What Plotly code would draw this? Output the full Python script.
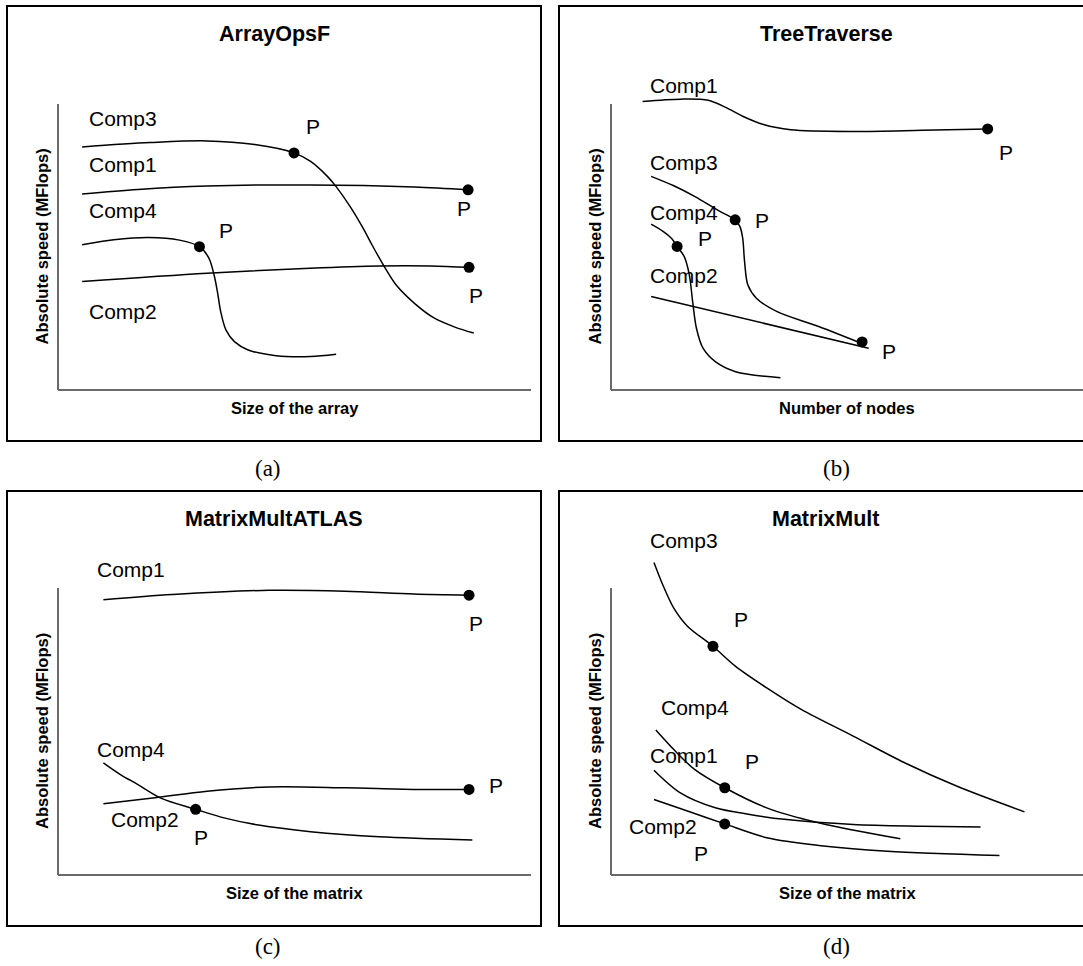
import plotly.graph_objects as go

W, H = 1083, 966

# ---------------- (a) ArrayOpsF ----------------
A_TITLE, A_XLABEL = "ArrayOpsF", "Size of the array"
A_COMP3_X = [5.1, 19.5, 31.5, 41.6, 49.9, 53.4, 57.0, 58.8, 61.7, 64.5, 66.4, 68.9, 71.5, 75.3, 79.5, 83.9, 87.9]
A_COMP3_Y = [85.0, 86.5, 87.1, 85.8, 82.9, 79.9, 74.6, 71.1, 64.3, 56.6, 50.7, 43.4, 36.7, 30.4, 25.2, 22.0, 19.9]
A_COMP1_X = [5.1, 16.9, 31.5, 53.3, 75.3, 86.7]
A_COMP1_Y = [68.5, 70.1, 71.3, 71.7, 71.0, 70.0]
A_COMP4_X = [5.1, 11.8, 19.1, 25.7, 29.9, 31.9, 33.0, 33.7, 34.4, 35.5, 37.3, 40.2, 46.1, 53.4, 58.8]
A_COMP4_Y = [50.8, 52.5, 53.3, 52.4, 50.1, 46.1, 40.2, 34.4, 27.4, 21.0, 16.9, 14.0, 12.0, 11.7, 12.5]
A_COMP2_X = [5.1, 31.5, 53.3, 67.9, 78.8, 86.9]
A_COMP2_Y = [37.9, 40.8, 42.6, 43.4, 43.4, 42.9]
A_DOT_X = [49.9, 86.7, 29.9, 86.9]
A_DOT_Y = [82.9, 70.0, 50.1, 42.9]
A_P_X = [53.9, 85.8, 35.5, 88.4]
A_P_Y = [92.3, 63.3, 55.9, 33.2]
A_NAMES = ["Comp3", "Comp1", "Comp4", "Comp2"]
A_NAME_X = [6.1, 6.1, 6.1, 6.1]
A_NAME_Y = [95.1, 79.0, 62.9, 27.3]

# ---------------- (b) TreeTraverse ----------------
B_TITLE, B_XLABEL = "TreeTraverse", "Number of nodes"
B_COMP1_X = [6.7, 14.7, 20.6, 24.3, 27.9, 32.3, 38.1, 51.3, 65.9, 79.8]
B_COMP1_Y = [100.9, 101.7, 101.3, 98.8, 95.7, 92.8, 91.0, 90.4, 90.8, 91.3]
B_COMP3_X = [8.5, 13.3, 17.7, 22.8, 26.3, 27.3, 27.9, 28.3, 29.0, 30.8, 35.2, 44.0, 54.0]
B_COMP3_Y = [74.7, 71.4, 67.7, 62.7, 59.5, 57.2, 53.1, 44.9, 36.7, 32.1, 27.4, 22.2, 15.7]
B_COMP4_X = [8.5, 11.1, 12.9, 14.0, 15.5, 16.6, 17.3, 18.1, 19.5, 22.1, 26.4, 35.9]
B_COMP4_Y = [58.0, 55.4, 52.9, 50.2, 46.7, 40.2, 30.9, 21.6, 14.6, 9.9, 6.4, 4.3]
B_COMP2_X = [8.5, 54.6]
B_COMP2_Y = [32.7, 14.6]
B_DOT_X = [79.8, 26.3, 14.0, 53.2]
B_DOT_Y = [91.3, 59.5, 50.2, 16.8]
B_P_X = [83.6, 31.9, 19.9, 58.9]
B_P_Y = [82.9, 59.4, 52.8, 13.3]
B_NAMES = ["Comp1", "Comp3", "Comp4", "Comp2"]
B_NAME_X = [7.8, 7.8, 7.8, 7.8]
B_NAME_Y = [106.6, 79.4, 62.2, 40.2]

# ---------------- (c) MatrixMultATLAS ----------------
C_TITLE, C_XLABEL = "MatrixMultATLAS", "Size of the matrix"
C_COMP1_X = [9.6, 24.2, 44.6, 60.7, 75.2, 86.9]
C_COMP1_Y = [95.9, 97.7, 99.2, 98.9, 97.9, 97.5]
C_COMP4_X = [9.6, 13.2, 16.9, 22.0, 29.1, 35.1, 42.4, 53.4, 67.9, 87.6]
C_COMP4_Y = [39.1, 35.0, 31.5, 26.6, 22.9, 19.9, 17.4, 15.1, 13.3, 12.2]
C_COMP2_X = [9.6, 20.5, 31.5, 44.6, 60.7, 75.2, 86.9]
C_COMP2_Y = [24.8, 26.9, 29.2, 30.7, 30.4, 29.8, 29.8]
C_DOT_X = [86.9, 29.1, 86.9]
C_DOT_Y = [97.5, 22.9, 29.8]
C_P_X = [88.4, 30.2, 92.7]
C_P_Y = [87.6, 13.0, 31.2]
C_NAMES = ["Comp1", "Comp4", "Comp2"]
C_NAME_X = [7.8, 7.8, 10.7]
C_NAME_Y = [106.6, 43.6, 19.4]

# ---------------- (d) MatrixMult ----------------
D_TITLE, D_XLABEL = "MatrixMult", "Size of the matrix"
D_COMP3_X = [9.1, 11.1, 13.3, 16.2, 21.6, 26.4, 33.0, 40.3, 51.3, 62.2, 73.2, 87.6]
D_COMP3_Y = [108.9, 100.6, 93.0, 86.7, 79.7, 72.7, 65.2, 57.7, 48.4, 39.1, 31.0, 22.0]
D_COMP4_X = [9.5, 13.3, 17.7, 24.1, 33.0, 44.0, 61.3]
D_COMP4_Y = [50.5, 43.7, 36.8, 30.4, 23.4, 18.2, 12.6]
D_COMP1_X = [9.1, 14.7, 22.1, 29.4, 36.7, 51.3, 65.9, 78.3]
D_COMP1_Y = [36.5, 28.6, 23.4, 21.1, 19.4, 17.6, 17.0, 16.7]
D_COMP2_X = [9.1, 16.2, 24.1, 33.0, 44.0, 58.6, 82.3]
D_COMP2_Y = [26.3, 22.3, 17.8, 13.0, 10.3, 8.3, 6.8]
D_DOT_X = [21.6, 24.1, 24.1]
D_DOT_Y = [79.7, 30.4, 17.8]
D_P_X = [27.5, 29.9, 19.0]
D_P_Y = [89.2, 39.7, 7.5]
D_NAMES = ["Comp3", "Comp4", "Comp1", "Comp2"]
D_NAME_X = [7.8, 10.2, 7.8, 3.3]
D_NAME_Y = [116.5, 58.2, 41.5, 16.8]

Y_LABEL = "Absolute speed (MFlops)"
TAGS = ["(a)", "(b)", "(c)", "(d)"]

SANS = "Liberation Sans, Arial, sans-serif"
SERIF = "Liberation Serif, Times New Roman, serif"
AXIS_GREY = "#6a6a6a"

panels = [
    dict(title=A_TITLE, xlabel=A_XLABEL,
         curves=[(A_COMP3_X, A_COMP3_Y), (A_COMP1_X, A_COMP1_Y), (A_COMP4_X, A_COMP4_Y), (A_COMP2_X, A_COMP2_Y)],
         dots=(A_DOT_X, A_DOT_Y), ps=(A_P_X, A_P_Y), names=(A_NAMES, A_NAME_X, A_NAME_Y),
         box=(7, 6, 541, 441), origin=(58, 390), xend=531, ytop=104, tag=(268, 469)),
    dict(title=B_TITLE, xlabel=B_XLABEL,
         curves=[(B_COMP1_X, B_COMP1_Y), (B_COMP3_X, B_COMP3_Y), (B_COMP4_X, B_COMP4_Y), (B_COMP2_X, B_COMP2_Y)],
         dots=(B_DOT_X, B_DOT_Y), ps=(B_P_X, B_P_Y), names=(B_NAMES, B_NAME_X, B_NAME_Y),
         box=(559, 6, 1093, 441), origin=(611, 390), xend=1083, ytop=104, tag=(836, 469)),
    dict(title=C_TITLE, xlabel=C_XLABEL,
         curves=[(C_COMP1_X, C_COMP1_Y), (C_COMP4_X, C_COMP4_Y), (C_COMP2_X, C_COMP2_Y)],
         dots=(C_DOT_X, C_DOT_Y), ps=(C_P_X, C_P_Y), names=(C_NAMES, C_NAME_X, C_NAME_Y),
         box=(7, 491, 541, 926), origin=(58, 875), xend=531, ytop=588, tag=(268, 946)),
    dict(title=D_TITLE, xlabel=D_XLABEL,
         curves=[(D_COMP3_X, D_COMP3_Y), (D_COMP4_X, D_COMP4_Y), (D_COMP1_X, D_COMP1_Y), (D_COMP2_X, D_COMP2_Y)],
         dots=(D_DOT_X, D_DOT_Y), ps=(D_P_X, D_P_Y), names=(D_NAMES, D_NAME_X, D_NAME_Y),
         box=(559, 491, 1093, 926), origin=(611, 875), xend=1083, ytop=588, tag=(836, 946)),
]


def px(x):
    return x / W


def py(y):
    return 1 - y / H


fig = go.Figure()
shapes, annotations = [], []
layout_axes = {}
PAD = 2.0  # data units kept below / left of the axis lines so they are not clipped

for i, p in enumerate(panels, start=1):
    xa, ya = f"x{i}", f"y{i}"
    ox, oy = p["origin"]
    ux = (p["xend"] - ox) / 100.0      # pixels per x unit
    uy = (oy - p["ytop"]) / 100.0      # pixels per y unit
    top_px = p["box"][1] + 20
    left_px = ox - PAD * ux
    bottom_px = oy + PAD * uy
    layout_axes[f"xaxis{i}"] = dict(
        domain=[px(left_px), min(1.0, px(p["xend"]))], range=[-PAD, 100],
        anchor=ya, visible=False, fixedrange=True)
    layout_axes[f"yaxis{i}"] = dict(
        domain=[py(bottom_px), py(top_px)], range=[-PAD, (oy - top_px) / uy],
        anchor=xa, visible=False, fixedrange=True)

    # axis lines
    shapes.append(dict(type="line", xref=xa, yref=ya, x0=0, x1=100, y0=0, y1=0,
                       line=dict(color=AXIS_GREY, width=2), layer="below"))
    shapes.append(dict(type="line", xref=xa, yref=ya, x0=0, x1=0, y0=0, y1=100,
                       line=dict(color=AXIS_GREY, width=2), layer="below"))
    # panel frame
    bx0, by0, bx1, by1 = p["box"]
    shapes.append(dict(type="rect", xref="paper", yref="paper",
                       x0=px(bx0), x1=px(bx1), y0=py(by1), y1=py(by0),
                       line=dict(color="black", width=2), fillcolor="rgba(0,0,0,0)"))

    for cx, cy in p["curves"]:
        fig.add_trace(go.Scatter(x=cx, y=cy, mode="lines", xaxis=xa, yaxis=ya,
                                 line=dict(color="black", width=1.5, shape="spline", smoothing=0.9),
                                 showlegend=False, hoverinfo="skip"))
    dx, dy = p["dots"]
    fig.add_trace(go.Scatter(x=dx, y=dy, mode="markers", xaxis=xa, yaxis=ya, cliponaxis=False,
                             marker=dict(color="black", size=11),
                             showlegend=False, hoverinfo="skip"))

    for x, y in zip(*p["ps"]):
        annotations.append(dict(text="P", x=x, y=y, xref=xa, yref=ya, showarrow=False,
                                xanchor="center", yanchor="middle",
                                font=dict(family=SANS, size=21, color="black")))
    for name, x, y in zip(*p["names"]):
        annotations.append(dict(text=name, x=x, y=y, xref=xa, yref=ya, showarrow=False,
                                xanchor="left", yanchor="middle",
                                font=dict(family=SANS, size=21, color="black")))

    # titles and axis labels
    cx_box = (bx0 + bx1) / 2
    annotations.append(dict(text=f"<b>{p['title']}</b>", x=px(cx_box), y=py(by0 + 28),
                            xref="paper", yref="paper", showarrow=False,
                            xanchor="center", yanchor="middle",
                            font=dict(family=SANS, size=21.5, color="black")))
    annotations.append(dict(text=f"<b>{p['xlabel']}</b>", x=px((ox + p["xend"]) / 2), y=py(oy + 18),
                            xref="paper", yref="paper", showarrow=False,
                            xanchor="center", yanchor="middle",
                            font=dict(family=SANS, size=16.5, color="black")))
    annotations.append(dict(text=f"<b>{Y_LABEL}</b>", x=px(ox - 16.5), y=py((oy + p["ytop"]) / 2),
                            xref="paper", yref="paper", showarrow=False, textangle=-90,
                            xanchor="center", yanchor="middle",
                            font=dict(family=SANS, size=16.5, color="black")))
    tx, ty = p["tag"]
    annotations.append(dict(text=TAGS[i - 1], x=px(tx), y=py(ty),
                            xref="paper", yref="paper", showarrow=False,
                            xanchor="center", yanchor="middle",
                            font=dict(family=SERIF, size=23, color="black")))

fig.update_layout(
    width=W, height=H, margin=dict(l=0, r=0, t=0, b=0),
    paper_bgcolor="white", plot_bgcolor="rgba(0,0,0,0)",
    shapes=shapes, annotations=annotations, **layout_axes)

fig.write_html("out.html", config=dict(displayModeBar=False))
